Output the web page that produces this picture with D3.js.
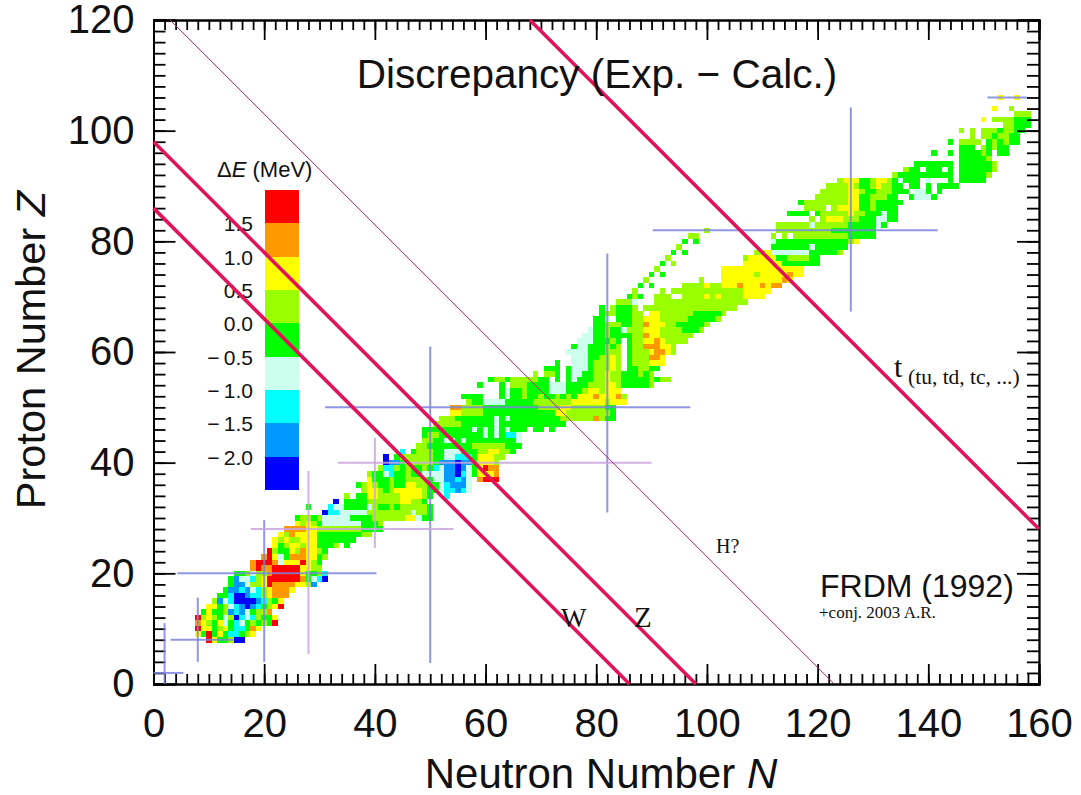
<!DOCTYPE html>
<html>
<head>
<meta charset="utf-8">
<script src="https://cdn.jsdelivr.net/npm/d3@7"></script>
<style>
  body { margin: 0; background: #fff; }
  text { font-family: "Liberation Sans", Arial, sans-serif; fill: #111; }
  .serif { font-family: "Liberation Serif", serif; }
  .axis path, .axis line { stroke: #000; stroke-width: 1.8; }
  .axis path { fill: none; }
  .axis text { font-family: "Liberation Sans", Arial, sans-serif; font-size: 40px; fill: #111; }
</style>
</head>
<body>
<svg id="chart" width="1081" height="795"></svg>
<script>
// discrepancy bins, top of scale first
const binCodes = ["r", "o", "y", "l", "g", "p", "c", "a", "b"];
const binColors = ["#ff0000", "#ff9900", "#ffff00", "#99ff00", "#00ff00", "#ccffee", "#00ffff", "#0099ff", "#0000ff"];
const binEdges = [2, 1.5, 1, 0.5, 0, -0.5, -1, -1.5, -2, -2.5];
const legendTicks = [1.5, 1, 0.5, 0, -0.5, -1, -1.5, -2];

// [Z, first N in the row, one bin code per neutron number, "." = no nucleus]
const cellRows = [
  [8, 10, "rygglbb"],
  [9, 8, "ygrgygccgly"],
  [10, 8, "ryyglygccgoy"],
  [11, 8, "oylgypgcpglglgr"],
  [12, 8, "rlylgplbcpclggy"],
  [13, 9, "gygglacapgllo"],
  [14, 10, "yyglpcabacglyr"],
  [15, 11, "lapcbbbbaclgy"],
  [16, 12, "ggcbbacclyooo"],
  [17, 13, "gaacapclyoooy"],
  [18, 14, "gaapllyrooooyyla"],
  [19, 14, "gappclyrrrrrrogpcb"],
  [20, 15, "gglpllorrrrrygglc"],
  [21, 18, "oroorrrrryyll"],
  [22, 18, "orrropyyyrylg"],
  [23, 20, "orypgoooyygl"],
  [24, 21, "rlggyloyylg"],
  [25, 22, "yglyylyygggl.g"],
  [26, 22, "ylyllyyyggggggg"],
  [27, 23, "yloyyyyggggggggll"],
  [28, 24, "ooooyyllllllllgggg"],
  [29, 26, "ylylgpppppppgggl"],
  [30, 26, "gllglpppppggggllllllyypgg"],
  [31, 31, "bccpppppllllllllpllg"],
  [32, 28, "g...cppggggplgglglllllg"],
  [33, 33, "b.ggggllllllyyllg"],
  [34, 35, "l.ggyyllllyyyylg..c"],
  [35, 38, "lyylglyyyyylggpccacp"],
  [36, 37, "glylgglggyyllggpcaaap"],
  [37, 39, "ygggl" + "ggllllgppaacap.orrr"],
  [38, 39, "lggpcgglggppppaabcpgyyyo"],
  [39, 41, "lcclglggl" + "gcpaabapgyroo"],
  [40, 42, "baaglllllgaaabaagyyyl"],
  [41, 42, "b.gllllllggppcccgyyyll"],
  [42, 45, "c.glllggpppgggllyyllg"],
  [43, 48, "llggggggggllllllggg"],
  [44, 49, "llggppgpgggggggggp"],
  [45, 49, "gllggggggggpgpgccp"],
  [46, 49, "gggggggggpgpgpgpggg.gg.g"],
  [47, 51, "lllllggggggpgggggggggggg"],
  [48, 52, "lllgggggggpgpgggggggggllllllolgg"],
  [49, 54, "yyllllgggggggggggggyyllllllllg"],
  [50, 54, "oollllggggggggggllllyyllllllgg"],
  [51, 57, "lggppppggggglllllllyyyyyylyyy"],
  [52, 56, "gggg...gpgglgglgglglgyyyoyyyol"],
  [53, 63, "gpgglggggpppggglyylyyy"],
  [54, 59, "g...g.lllggggpppgggglllyylgggggl"],
  [55, 61, "gllglllllgg.g.gpgggllyllggggglgll"],
  [56, 69, "l.llg.gppggllyllggglgl"],
  [57, 71, "ggg.gpppglllyl.ggllgg"],
  [58, 73, "g..pppglllyl.glllyyy"],
  [59, 76, "pppggllyl.glllooy"],
  [60, 75, "ppppggglll.glllyooyl"],
  [61, 76, "gppgggl" + "gl.gllooo" + "yyl"],
  [62, 77, "pppggglg.gllyyoyllll"],
  [63, 78, "ppgglggggllo" + "yyllllll"],
  [64, 79, "pgglggplllyyyllllgggl"],
  [65, 80, "gglllggllo" + "yyyllgggggl"],
  [66, 80, "ggp.gggllyyylllllgggggl"],
  [67, 81, "gllgggll.yyllllllgggggl"],
  [68, 81, "g.lgggl.lllllllllllllllll"],
  [69, 84, "lllp...lllllllllllllllll"],
  [70, 86, "glg..lll..llllylyllllyyyy"],
  [71, 87, "l....l.lllllllllllllyyyyy"],
  [72, 88, "g.g.....llllyllyyyoyyyoyoo"],
  [73, 89, "l.........l...yyyyyyyyyyyoy"],
  [74, 90, "g.g..........yyyyyylyyyyyoyy"],
  [75, 91, "l...........yyyyyyyyyyyyyyy"],
  [76, 92, "g.l............yyyyyyyggggggg"],
  [77, 93, "l.............lyyyyyggllllgg"],
  [78, 94, "g.g............llyppppppp" + "gggggl"],
  [79, 95, "l................gggggggpgggggg"],
  [80, 96, "g.g.............pgggggggggggggly"],
  [81, 97, "ll.............l.l.llllllllllggggg"],
  [82, 100, "l............llllllllllgggggggg"],
  [83, 113, "llllllpllllllgggggpg"],
  [84, 119, "l.lyyylllgggppgg"],
  [85, 115, "gggg.glllllyllgggpgg"],
  [86, 118, "llll.lyyyygglgggg"],
  [87, 117, "gllllllllyygglggggg"],
  [88, 120, "llllllyygglllgg..gpppg"],
  [89, 121, "lllllyylgglllggg.ppg.g"],
  [90, 122, "llllylgglyllgg.gg.g.gggg"],
  [91, 124, "lyyygglyylgpggg.p...g.ggggg"],
  [92, 134, "lgggggggggg.gggggl"],
  [93, 136, "lgg.ggg.g.ggggggl"],
  [94, 138, "ggggggg.ggggggl"],
  [95, 146, "gggggl"],
  [96, 141, "g..g.gggglg.gg"],
  [97, 146, "ggg.lglgg"],
  [98, 144, "g.llll.glglgg"],
  [99, 148, "l.llgllgg"],
  [100, 146, "l.l.lllgllgg"],
  [101, 154, "llggg"],
  [102, 150, "y.llllggg"],
  [103, 156, "lll"],
  [104, 152, "y..l"],
  [106, 153, "y..y"]
];

// magic number crosshairs: position and extent along the other axis
const blueVerticals = [[2, 0, 11], [8, 4, 15.6], [20, 4, 29.6], [50, 3.8, 61], [82, 31, 77.8], [126, 67.3, 104.2]];
const blueHorizontals = [[2, 0, 5.4], [8, 3.1, 14.4], [20, 4.3, 40.3], [50, 31, 97], [82, 90.2, 141.7], [106, 150.7, 157.8]];
const purpleVerticals = [[28, 5.4, 38.5], [40, 24.6, 44.5]];
const purpleHorizontals = [[28, 17.6, 54.2], [40, 33.3, 90]];

// lines of constant N + Z
const thickSums = [86, 98, 188];
const thinSums = [123];

const svg = d3.select("#chart");

const xScale = d3.scaleLinear().domain([0, 160]).range([153.5, 1039]);
const yScale = d3.scaleLinear().domain([0, 120]).range([684, 20]);
const colorScale = d3.scaleOrdinal().domain(binCodes).range(binColors);
const legendY = d3.scaleLinear().domain([2, -2.5]).range([190, 490]);

const cellW = xScale(1) - xScale(0);
const cellH = yScale(0) - yScale(1);

// flatten the rows into one nucleus per cell
const cells = cellRows.flatMap(([z, first, codes]) =>
  Array.from(codes).map((code, i) => ({ n: first + i, z: z, code: code }))
).filter(d => d.code !== ".");

svg.append("g")
  .style("filter", "blur(0.6px)")
  .selectAll("rect")
  .data(cells)
  .enter()
  .append("rect")
  .attr("x", d => xScale(d.n) - cellW / 2)
  .attr("y", d => yScale(d.z) - cellH / 2)
  .attr("width", cellW)
  .attr("height", cellH)
  .attr("fill", d => colorScale(d.code))
  .attr("shape-rendering", "crispEdges");

// color key
const legend = svg.append("g");
legend.selectAll("rect")
  .data(binCodes)
  .enter()
  .append("rect")
  .attr("x", 264.5)
  .attr("width", 34)
  .attr("y", (d, i) => legendY(binEdges[i]))
  .attr("height", (d, i) => legendY(binEdges[i + 1]) - legendY(binEdges[i]))
  .attr("fill", d => colorScale(d))
  .attr("shape-rendering", "crispEdges");

legend.selectAll("text")
  .data(legendTicks)
  .enter()
  .append("text")
  .attr("x", 253)
  .attr("y", d => legendY(d) + 8)
  .attr("text-anchor", "end")
  .attr("font-size", "21px")
  .text(d => (d < 0 ? "\u2212\u2009" : "") + Math.abs(d).toFixed(1));

const keyTitle = legend.append("text")
  .attr("x", 217)
  .attr("y", 177)
  .attr("font-size", "22px");
keyTitle.append("tspan").text("\u0394");
keyTitle.append("tspan").attr("font-style", "italic").text("E");
keyTitle.append("tspan").text(" (MeV)");

// tick marks on all four sides
function drawAxes() {
  const xMinor = d3.range(0, 161, 2);
  const yMinor = d3.range(0, 121, 2);
  const xMajor = d3.range(0, 161, 20);
  const yMajor = d3.range(0, 121, 20);

  svg.append("g").attr("class", "axis").attr("transform", "translate(0,684)")
    .call(d3.axisBottom(xScale).tickValues(xMinor).tickSize(-10).tickFormat(""));
  svg.append("g").attr("class", "axis").attr("transform", "translate(0,20)")
    .call(d3.axisTop(xScale).tickValues(xMinor).tickSize(-10).tickFormat(""));
  svg.append("g").attr("class", "axis").attr("transform", "translate(153.5,0)")
    .call(d3.axisLeft(yScale).tickValues(yMinor).tickSize(-12).tickFormat(""));
  svg.append("g").attr("class", "axis").attr("transform", "translate(1039,0)")
    .call(d3.axisRight(yScale).tickValues(yMinor).tickSize(-12).tickFormat(""));

  svg.append("g").attr("class", "axis").attr("transform", "translate(0,684)")
    .call(d3.axisBottom(xScale).tickValues(xMajor).tickSize(-20).tickPadding(25));
  svg.append("g").attr("class", "axis").attr("transform", "translate(153.5,0)")
    .call(d3.axisLeft(yScale).tickValues(yMajor).tickSize(-22).tickPadding(19));
  svg.append("g").attr("class", "axis").attr("transform", "translate(0,20)")
    .call(d3.axisTop(xScale).tickValues(xMajor).tickSize(-20).tickFormat(""));
  svg.append("g").attr("class", "axis").attr("transform", "translate(1039,0)")
    .call(d3.axisRight(yScale).tickValues(yMajor).tickSize(-22).tickFormat(""));
}
drawAxes();

// crosshairs at the magic numbers
function drawCrosshairs(verticals, horizontals, color) {
  const g = svg.append("g").attr("stroke", color).attr("stroke-width", 2).attr("stroke-opacity", 0.85);
  g.selectAll("line.v")
    .data(verticals)
    .enter()
    .append("line")
    .attr("class", "v")
    .attr("x1", d => xScale(d[0]))
    .attr("x2", d => xScale(d[0]))
    .attr("y1", d => yScale(d[1]))
    .attr("y2", d => yScale(d[2]));
  g.selectAll("line.h")
    .data(horizontals)
    .enter()
    .append("line")
    .attr("class", "h")
    .attr("y1", d => yScale(d[0]))
    .attr("y2", d => yScale(d[0]))
    .attr("x1", d => xScale(d[1]))
    .attr("x2", d => xScale(d[2]));
}
drawCrosshairs(blueVerticals, blueHorizontals, "#7c84de");
drawCrosshairs(purpleVerticals, purpleHorizontals, "#c9a6de");

// diagonal N + Z = const, clipped to the frame
function drawSum(sum, width, color) {
  const n0 = Math.max(0, sum - 120);
  const n1 = Math.min(160, sum);
  svg.append("line")
    .attr("x1", xScale(n0))
    .attr("y1", yScale(sum - n0))
    .attr("x2", xScale(n1))
    .attr("y2", yScale(sum - n1))
    .attr("stroke", color)
    .attr("stroke-width", width);
}
thickSums.forEach(s => drawSum(s, 3.6, "#e0145a"));
thinSums.forEach(s => drawSum(s, 1, "#a82468"));

// labels
svg.append("text").attr("x", 597).attr("y", 88).attr("text-anchor", "middle")
  .attr("font-size", "40.5px").text("Discrepancy (Exp. \u2212 Calc.)");

const xTitle = svg.append("text").attr("x", 601).attr("y", 788).attr("text-anchor", "middle")
  .attr("font-size", "42px");
xTitle.append("tspan").text("Neutron Number ");
xTitle.append("tspan").attr("font-style", "italic").text("N");

const yTitle = svg.append("text").attr("transform", "translate(45,350) rotate(-90)").attr("text-anchor", "middle")
  .attr("font-size", "41.5px");
yTitle.append("tspan").text("Proton Number ");
yTitle.append("tspan").attr("font-style", "italic").text("Z");

svg.append("text").attr("x", 820).attr("y", 597).attr("font-size", "32px").text("FRDM (1992)");
svg.append("text").attr("class", "serif").attr("x", 819).attr("y", 618).attr("font-size", "17px").text("+conj. 2003 A.R.");
svg.append("text").attr("class", "serif").attr("x", 716).attr("y", 553).attr("font-size", "20px").text("H?");
svg.append("text").attr("class", "serif").attr("x", 561).attr("y", 627).attr("font-size", "27px").text("W");
svg.append("text").attr("class", "serif").attr("x", 634).attr("y", 627).attr("font-size", "29px").text("Z");
svg.append("text").attr("class", "serif").attr("x", 894).attr("y", 377).attr("font-size", "30px").text("t");
svg.append("text").attr("class", "serif").attr("x", 908).attr("y", 384).attr("font-size", "21.5px").text("(tu, td, tc, ...)");
</script>
</body>
</html>
